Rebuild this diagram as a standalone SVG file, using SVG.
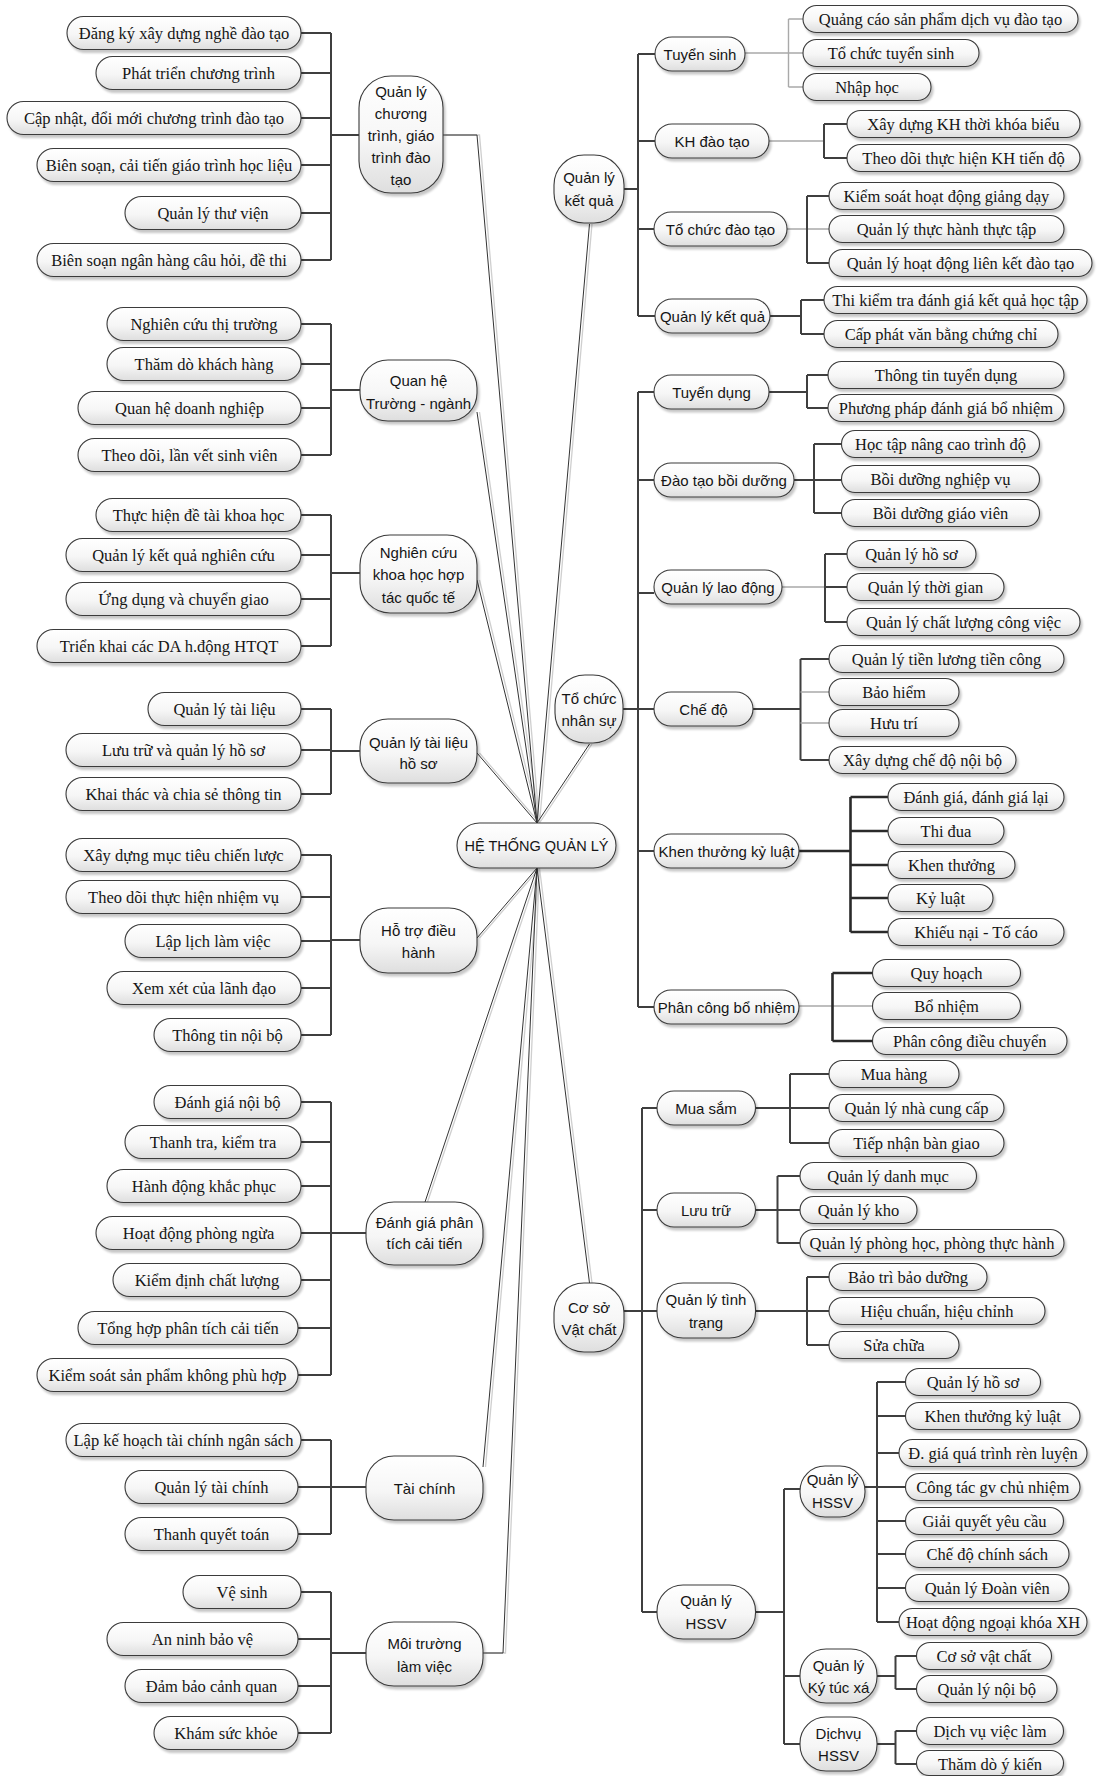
<svg xmlns="http://www.w3.org/2000/svg" width="1099" height="1776" viewBox="0 0 1099 1776">
<defs>
<linearGradient id="gf" x1="0" y1="0" x2="0" y2="1">
<stop offset="0" stop-color="#ffffff"/>
<stop offset="0.55" stop-color="#f6f6f6"/>
<stop offset="1" stop-color="#dedede"/>
</linearGradient>
<filter id="sh" x="-10%" y="-20%" width="130%" height="170%">
<feDropShadow dx="2" dy="3" stdDeviation="1.2" flood-color="#000" flood-opacity="0.22"/>
</filter>
</defs>
<style>
.n{fill:url(#gf);stroke:#3a3a3a;stroke-width:1.1;filter:url(#sh)}
text{text-anchor:middle;dominant-baseline:central;fill:#151515}
.a{font-family:"Liberation Serif","Times New Roman",serif;font-size:16.5px}
.p{font-family:"Liberation Sans",Arial,sans-serif;font-size:15px}
.k{fill:none;stroke:#3f3f3f;stroke-width:2}
.kt{fill:none;stroke:#2a2a2a;stroke-width:2.6}
.kl{fill:none;stroke:#a9a9a9;stroke-width:1.4}
.rd{fill:none;stroke:#333;stroke-width:1}
.rs{fill:none;stroke:#cfcfcf;stroke-width:1.3}
</style>
<rect width="1099" height="1776" fill="#ffffff"/>

<!-- connectors -->
<g id="connectors">
<!-- radial links from the root node -->
<g transform="translate(2.5,0)">
<path class="rs" d="M443,135H477L537,823 M477,412L537,823 M477,580L537,823 M477,753L537,823 M589.5,224L537,823 M589.5,744L537,823 M477,938L537,868 M425,1202L537,868 M483,1467L537,868 M483,1653H503L537,868 M589.5,1283L537,868"/>
</g>
<path class="rd" d="M443,135H477L537,823 M477,412L537,823 M477,580L537,823 M477,753L537,823 M589.5,224L537,823 M589.5,744L537,823 M477,938L537,868 M425,1202L537,868 M483,1467L537,868 M483,1653H503L537,868 M589.5,1283L537,868"/>

<!-- left branches -->
<path class="k" d="M301,33H331 M301,73H331 M301,118H331 M301,165H331 M301,213H331 M301,260H331 M331,33V260 M331,135H359"/>
<path class="k" d="M301,324H331 M301,364H331 M301,408H331 M301,455H331 M331,324V455 M331,390H360"/>
<path class="k" d="M301,515H331 M301,555H331 M301,599H331 M301,646H331 M331,515V646 M331,573H360"/>
<path class="k" d="M301,709H331 M301,750H331 M301,794H331 M331,709V794 M331,751H360"/>
<path class="k" d="M301,855H331 M301,897H331 M301,941H331 M301,988H331 M301,1035H331 M331,855V1035 M331,940H360"/>
<path class="k" d="M301,1102H331 M301,1142H331 M301,1186H331 M301,1233H331 M301,1280H331 M298,1328H331 M298,1375H331 M331,1102V1375 M331,1233H366"/>
<path class="k" d="M301,1440H331 M298,1487H331 M298,1534H331 M331,1440V1534 M331,1487H366"/>
<path class="k" d="M301,1592H331 M298,1639H331 M298,1686H331 M298,1733H331 M331,1592V1733 M331,1653H366"/>

<!-- Quản lý kết quả -->
<path class="k" d="M624,189H638 M638,54V316 M638,54H655 M638,141H655 M638,229H654 M638,316H655"/>
<path class="kl" d="M745,53H788.5 M788.5,19V87 M788.5,19H803 M788.5,53H803 M788.5,87H803"/>
<path class="kl" d="M768.5,141H824"/>
<path class="k" d="M824,124V158 M824,124H847 M824,158H847"/>
<path class="kl" d="M787,229H829"/>
<path class="k" d="M807,196V263 M807,196H829 M807,263H829"/>
<path class="k" d="M770,316H801 M801,300V334 M801,300H824 M801,334H824"/>

<!-- Tổ chức nhân sự -->
<path class="k" d="M623,709H638 M638,392V1007 M638,392H654 M638,480H654 M638,593H654 M638,709H654 M638,851H654 M638,1007H654"/>
<path class="k" d="M768.5,392H807 M807,375V408 M807,375H828 M807,408H828"/>
<path class="k" d="M794,480H841.5 M814,444V513 M814,444H841.5 M814,513H841.5"/>
<path class="kl" d="M782,587H825"/>
<path class="k" d="M825,554V622 M825,554H847 M825,587H847 M825,622H847"/>
<path class="k" d="M753,709H800.5 M800.5,659V760 M800.5,659H829 M800.5,760H829"/>
<path class="kl" d="M800.5,692H829 M800.5,723H829"/>
<path class="kt" d="M798.5,851H850.5 M850.5,797V932 M850.5,797H888 M850.5,831H888 M850.5,865H888 M850.5,898H888 M850.5,932H888"/>
<path class="kl" d="M798.5,1006H872.5"/>
<path class="kt" d="M832.5,973V1041 M832.5,973H872.5 M832.5,1041H872.5"/>

<!-- Cơ sở vật chất -->
<path class="k" d="M624,1311H642 M642,1108V1612 M642,1108H657 M642,1210H657 M642,1311H657 M642,1612H657"/>
<path class="k" d="M755.5,1108H829 M790,1074V1143 M790,1074H829 M790,1143H829"/>
<path class="k" d="M755.5,1210H800 M777.5,1176V1243 M777.5,1176H800 M777.5,1243H800"/>
<path class="k" d="M755.5,1311H829 M807,1277V1345 M807,1277H829 M807,1345H829"/>
<path class="k" d="M755.5,1612H784 M784,1489V1744 M784,1489H800 M784,1676H800 M784,1744H800"/>
<path class="k" d="M865,1487H877 M877,1382V1622 M877,1382H905.5 M877,1416H905.5 M877,1453H899 M877,1487H905.5 M877,1521H905.5 M877,1554H905.5 M877,1588H905.5 M877,1622H899"/>
<path class="k" d="M877,1676H895.5 M895.5,1656V1689 M895.5,1656H916.5 M895.5,1689H916.5"/>
<path class="k" d="M877,1744H895.5 M895.5,1731V1764 M895.5,1731H916.5 M895.5,1764H916.5"/>
</g>

<!-- root -->
<g id="he-thong-quan-ly"><rect class="n" x="457" y="823" width="159" height="45" rx="22.5"/><text class="p" x="536.5" y="846" style="font-size:14.5px">HỆ THỐNG QUẢN LÝ</text></g>

<!-- left main branches -->
<g id="ql-chuong-trinh"><rect class="n" x="359" y="76" width="84" height="117" rx="32"/>
<text class="p"><tspan x="401" y="91">Quản lý</tspan><tspan x="401" y="113">chương</tspan><tspan x="401" y="135">trình, giáo</tspan><tspan x="401" y="157">trình đào</tspan><tspan x="401" y="179">tạo</tspan></text></g>
<g id="quan-he"><rect class="n" x="360" y="360" width="117" height="61" rx="28"/>
<text class="p"><tspan x="418.5" y="380">Quan hệ</tspan><tspan x="418.5" y="403">Trường - ngành</tspan></text></g>
<g id="nghien-cuu"><rect class="n" x="360" y="535" width="117" height="78" rx="30"/>
<text class="p"><tspan x="418.5" y="552">Nghiên cứu</tspan><tspan x="418.5" y="574">khoa học hợp</tspan><tspan x="418.5" y="597">tác quốc tế</tspan></text></g>
<g id="tai-lieu"><rect class="n" x="360" y="719" width="117" height="64" rx="28"/>
<text class="p"><tspan x="418.5" y="742">Quản lý tài liệu</tspan><tspan x="418.5" y="763">hồ sơ</tspan></text></g>
<g id="ho-tro"><rect class="n" x="360" y="908" width="117" height="65" rx="28"/>
<text class="p"><tspan x="418.5" y="930">Hỗ trợ điều</tspan><tspan x="418.5" y="952">hành</tspan></text></g>
<g id="danh-gia"><rect class="n" x="366" y="1202" width="117" height="63" rx="28"/>
<text class="p"><tspan x="424.5" y="1222">Đánh giá phân</tspan><tspan x="424.5" y="1243">tích cải tiến</tspan></text></g>
<g id="tai-chinh"><rect class="n" x="366" y="1456" width="117" height="64" rx="28"/>
<text class="p" x="424.5" y="1488">Tài chính</text></g>
<g id="moi-truong"><rect class="n" x="366" y="1622" width="117" height="64" rx="28"/>
<text class="p"><tspan x="424.5" y="1643">Môi trường</tspan><tspan x="424.5" y="1666">làm việc</tspan></text></g>

<!-- left leaves -->
<g id="l1a"><rect class="n" x="67" y="16.5" width="234" height="33" rx="16.5"/><text class="a" x="184" y="33">Đăng ký xây dựng nghề đào tạo</text></g>
<g id="l1b"><rect class="n" x="96" y="56.5" width="205" height="33" rx="16.5"/><text class="a" x="198.5" y="73">Phát triển chương trình</text></g>
<g id="l1c"><rect class="n" x="7" y="101.5" width="294" height="33" rx="16.5"/><text class="a" x="154" y="118">Cập nhật, đổi mới chương trình đào tạo</text></g>
<g id="l1d"><rect class="n" x="37" y="148.5" width="264" height="33" rx="16.5"/><text class="a" x="169" y="165">Biên soạn, cải tiến giáo trình học liệu</text></g>
<g id="l1e"><rect class="n" x="125" y="196.5" width="176" height="33" rx="16.5"/><text class="a" x="213" y="213">Quản lý thư viện</text></g>
<g id="l1f"><rect class="n" x="37" y="243.5" width="264" height="33" rx="16.5"/><text class="a" x="169" y="260">Biên soạn ngân hàng câu hỏi, đề thi</text></g>

<g id="l2a"><rect class="n" x="107" y="307.5" width="194" height="33" rx="16.5"/><text class="a" x="204" y="324">Nghiên cứu thị trường</text></g>
<g id="l2b"><rect class="n" x="107" y="347.5" width="194" height="33" rx="16.5"/><text class="a" x="204" y="364">Thăm dò khách hàng</text></g>
<g id="l2c"><rect class="n" x="78" y="391.5" width="223" height="33" rx="16.5"/><text class="a" x="189.5" y="408">Quan hệ doanh nghiệp</text></g>
<g id="l2d"><rect class="n" x="78" y="438.5" width="223" height="33" rx="16.5"/><text class="a" x="189.5" y="455">Theo dõi, lần vết sinh viên</text></g>

<g id="l3a"><rect class="n" x="96" y="498.5" width="205" height="33" rx="16.5"/><text class="a" x="198.5" y="515">Thực hiện đề tài khoa học</text></g>
<g id="l3b"><rect class="n" x="66" y="538.5" width="235" height="33" rx="16.5"/><text class="a" x="183.5" y="555">Quản lý kết quả nghiên cứu</text></g>
<g id="l3c"><rect class="n" x="66" y="582.5" width="235" height="33" rx="16.5"/><text class="a" x="183.5" y="599">Ứng dụng và chuyển giao</text></g>
<g id="l3d"><rect class="n" x="37" y="629.5" width="264" height="33" rx="16.5"/><text class="a" x="169" y="646">Triển khai các DA h.động HTQT</text></g>

<g id="l4a"><rect class="n" x="148" y="692.5" width="153" height="33" rx="16.5"/><text class="a" x="224.5" y="709">Quản lý tài liệu</text></g>
<g id="l4b"><rect class="n" x="66" y="733.5" width="235" height="33" rx="16.5"/><text class="a" x="183.5" y="750">Lưu trữ và quản lý hồ sơ</text></g>
<g id="l4c"><rect class="n" x="66" y="777.5" width="235" height="33" rx="16.5"/><text class="a" x="183.5" y="794">Khai thác và chia sẻ thông tin</text></g>

<g id="l5a"><rect class="n" x="66" y="838.5" width="235" height="33" rx="16.5"/><text class="a" x="183.5" y="855">Xây dựng mục tiêu chiến lược</text></g>
<g id="l5b"><rect class="n" x="66" y="880.5" width="235" height="33" rx="16.5"/><text class="a" x="183.5" y="897">Theo dõi thực hiện nhiệm vụ</text></g>
<g id="l5c"><rect class="n" x="125" y="924.5" width="176" height="33" rx="16.5"/><text class="a" x="213" y="941">Lập lịch làm việc</text></g>
<g id="l5d"><rect class="n" x="107" y="971.5" width="194" height="33" rx="16.5"/><text class="a" x="204" y="988">Xem xét của lãnh đạo</text></g>
<g id="l5e"><rect class="n" x="154" y="1018.5" width="147" height="33" rx="16.5"/><text class="a" x="227.5" y="1035">Thông tin nội bộ</text></g>

<g id="l6a"><rect class="n" x="154" y="1085.5" width="147" height="33" rx="16.5"/><text class="a" x="227.5" y="1102">Đánh giá nội bộ</text></g>
<g id="l6b"><rect class="n" x="125" y="1125.5" width="176" height="33" rx="16.5"/><text class="a" x="213" y="1142">Thanh tra, kiểm tra</text></g>
<g id="l6c"><rect class="n" x="107" y="1169.5" width="194" height="33" rx="16.5"/><text class="a" x="204" y="1186">Hành động khắc phục</text></g>
<g id="l6d"><rect class="n" x="96" y="1216.5" width="205" height="33" rx="16.5"/><text class="a" x="198.5" y="1233">Hoạt động phòng ngừa</text></g>
<g id="l6e"><rect class="n" x="113" y="1263.5" width="188" height="33" rx="16.5"/><text class="a" x="207" y="1280">Kiểm định chất lượng</text></g>
<g id="l6f"><rect class="n" x="78" y="1311.5" width="220" height="33" rx="16.5"/><text class="a" x="188" y="1328">Tổng hợp phân tích cải tiến</text></g>
<g id="l6g"><rect class="n" x="37" y="1358.5" width="261" height="33" rx="16.5"/><text class="a" x="167.5" y="1375">Kiểm soát sản phẩm không phù hợp</text></g>

<g id="l7a"><rect class="n" x="66" y="1423.5" width="235" height="33" rx="16.5"/><text class="a" x="183.5" y="1440">Lập kế hoạch tài chính ngân sách</text></g>
<g id="l7b"><rect class="n" x="125" y="1470.5" width="173" height="33" rx="16.5"/><text class="a" x="211.5" y="1487">Quản lý tài chính</text></g>
<g id="l7c"><rect class="n" x="125" y="1517.5" width="173" height="33" rx="16.5"/><text class="a" x="211.5" y="1534">Thanh quyết toán</text></g>

<g id="l8a"><rect class="n" x="183" y="1575.5" width="118" height="33" rx="16.5"/><text class="a" x="242" y="1592">Vệ sinh</text></g>
<g id="l8b"><rect class="n" x="107" y="1622.5" width="191" height="33" rx="16.5"/><text class="a" x="202.5" y="1639">An ninh bảo vệ</text></g>
<g id="l8c"><rect class="n" x="125" y="1669.5" width="173" height="33" rx="16.5"/><text class="a" x="211.5" y="1686">Đảm bảo cảnh quan</text></g>
<g id="l8d"><rect class="n" x="154" y="1716.5" width="144" height="33" rx="16.5"/><text class="a" x="226" y="1733">Khám sức khỏe</text></g>

<!-- right main branches -->
<g id="ql-ket-qua"><rect class="n" x="554" y="155" width="70" height="68" rx="30"/>
<text class="p"><tspan x="589" y="177">Quản lý</tspan><tspan x="589" y="200">kết quả</tspan></text></g>
<g id="to-chuc-nhan-su"><rect class="n" x="555" y="675" width="68" height="68" rx="30"/>
<text class="p"><tspan x="589" y="698">Tổ chức</tspan><tspan x="589" y="720">nhân sự</tspan></text></g>
<g id="co-so-vat-chat"><rect class="n" x="554" y="1283" width="70" height="69" rx="30"/>
<text class="p"><tspan x="589" y="1307">Cơ sở</tspan><tspan x="589" y="1329">Vật chất</tspan></text></g>

<!-- Quản lý kết quả: sub-branches -->
<g id="s1"><rect class="n" x="655" y="37" width="90" height="34" rx="17"/><text class="p" x="700" y="54">Tuyển sinh</text></g>
<g id="s2"><rect class="n" x="655" y="124" width="114" height="34" rx="17"/><text class="p" x="712" y="141">KH đào tạo</text></g>
<g id="s3"><rect class="n" x="654" y="212" width="133" height="34" rx="17"/><text class="p" x="720.5" y="229">Tổ chức đào tạo</text></g>
<g id="s4"><rect class="n" x="655" y="299" width="115" height="34" rx="17"/><text class="p" x="712.5" y="316">Quản lý kết quả</text></g>

<g id="q1"><rect class="n" x="803" y="5.5" width="275" height="27" rx="13.5"/><text class="a" x="940.5" y="19">Quảng cáo sản phẩm dịch vụ đào tạo</text></g>
<g id="q2"><rect class="n" x="803" y="39.5" width="176" height="27" rx="13.5"/><text class="a" x="891" y="53">Tổ chức tuyển sinh</text></g>
<g id="q3"><rect class="n" x="803" y="73.5" width="128" height="27" rx="13.5"/><text class="a" x="867" y="87">Nhập học</text></g>
<g id="q4"><rect class="n" x="847" y="110.5" width="233" height="27" rx="13.5"/><text class="a" x="963.5" y="124">Xây dựng KH thời khóa biểu</text></g>
<g id="q5"><rect class="n" x="847" y="144.5" width="233" height="27" rx="13.5"/><text class="a" x="963.5" y="158">Theo dõi thực hiện KH tiến độ</text></g>
<g id="q6"><rect class="n" x="829" y="182.5" width="235" height="27" rx="13.5"/><text class="a" x="946.5" y="196">Kiểm soát hoạt động giảng dạy</text></g>
<g id="q7"><rect class="n" x="829" y="215.5" width="235" height="27" rx="13.5"/><text class="a" x="946.5" y="229">Quản lý thực hành thực tập</text></g>
<g id="q8"><rect class="n" x="829" y="249.5" width="263" height="27" rx="13.5"/><text class="a" x="960.5" y="263">Quản lý hoạt động liên kết đào tạo</text></g>
<g id="q9"><rect class="n" x="824" y="286.5" width="263" height="27" rx="13.5"/><text class="a" x="955.5" y="300">Thi kiểm tra đánh giá kết quả học tập</text></g>
<g id="q10"><rect class="n" x="824" y="320.5" width="234" height="27" rx="13.5"/><text class="a" x="941" y="334">Cấp phát văn bằng chứng chỉ</text></g>

<!-- Tổ chức nhân sự: sub-branches -->
<g id="t1"><rect class="n" x="654" y="375" width="115" height="34" rx="17"/><text class="p" x="711.5" y="392">Tuyển dụng</text></g>
<g id="t2"><rect class="n" x="654" y="463" width="140" height="34" rx="17"/><text class="p" x="724" y="480">Đào tạo bồi dưỡng</text></g>
<g id="t3"><rect class="n" x="654" y="570" width="128" height="34" rx="17"/><text class="p" x="718" y="587">Quản lý lao động</text></g>
<g id="t4"><rect class="n" x="654" y="692" width="99" height="34" rx="17"/><text class="p" x="703.5" y="709">Chế độ</text></g>
<g id="t5"><rect class="n" x="654" y="834" width="145" height="34" rx="17"/><text class="p" x="726.5" y="851">Khen thưởng kỷ luật</text></g>
<g id="t6"><rect class="n" x="654" y="990" width="145" height="34" rx="17"/><text class="p" x="726.5" y="1007">Phân công bổ nhiệm</text></g>

<g id="a1"><rect class="n" x="828" y="361.5" width="236" height="27" rx="13.5"/><text class="a" x="946" y="375">Thông tin tuyển dụng</text></g>
<g id="a2"><rect class="n" x="828" y="394.5" width="236" height="27" rx="13.5"/><text class="a" x="946" y="408">Phương pháp đánh giá bổ nhiệm</text></g>
<g id="a3"><rect class="n" x="841.5" y="430.5" width="198" height="27" rx="13.5"/><text class="a" x="940.5" y="444">Học tập nâng cao trình độ</text></g>
<g id="a4"><rect class="n" x="841.5" y="465.5" width="198" height="27" rx="13.5"/><text class="a" x="940.5" y="479">Bồi dưỡng nghiệp vụ</text></g>
<g id="a5"><rect class="n" x="841.5" y="499.5" width="198" height="27" rx="13.5"/><text class="a" x="940.5" y="513">Bồi dưỡng giáo viên</text></g>
<g id="a6"><rect class="n" x="847" y="540.5" width="129" height="27" rx="13.5"/><text class="a" x="911.5" y="554">Quản lý hồ sơ</text></g>
<g id="a7"><rect class="n" x="847" y="573.5" width="157" height="27" rx="13.5"/><text class="a" x="925.5" y="587">Quản lý thời gian</text></g>
<g id="a8"><rect class="n" x="847" y="608.5" width="233" height="27" rx="13.5"/><text class="a" x="963.5" y="622">Quản lý chất lượng công việc</text></g>
<g id="a9"><rect class="n" x="829" y="645.5" width="235" height="27" rx="13.5"/><text class="a" x="946.5" y="659">Quản lý tiền lương tiền công</text></g>
<g id="a10"><rect class="n" x="829" y="678.5" width="130" height="27" rx="13.5"/><text class="a" x="894" y="692">Bảo hiểm</text></g>
<g id="a11"><rect class="n" x="829" y="709.5" width="130" height="27" rx="13.5"/><text class="a" x="894" y="723">Hưu trí</text></g>
<g id="a12"><rect class="n" x="829" y="746.5" width="187" height="27" rx="13.5"/><text class="a" x="922.5" y="760">Xây dựng chế độ nội bộ</text></g>
<g id="a13"><rect class="n" x="888" y="783.5" width="176" height="27" rx="13.5"/><text class="a" x="976" y="797">Đánh giá, đánh giá lại</text></g>
<g id="a14"><rect class="n" x="888" y="817.5" width="116" height="27" rx="13.5"/><text class="a" x="946" y="831">Thi đua</text></g>
<g id="a15"><rect class="n" x="888" y="851.5" width="127" height="27" rx="13.5"/><text class="a" x="951.5" y="865">Khen thưởng</text></g>
<g id="a16"><rect class="n" x="888" y="884.5" width="105" height="27" rx="13.5"/><text class="a" x="940.5" y="898">Kỷ luật</text></g>
<g id="a17"><rect class="n" x="888" y="918.5" width="176" height="27" rx="13.5"/><text class="a" x="976" y="932">Khiếu nại - Tố cáo</text></g>
<g id="a18"><rect class="n" x="872.5" y="959.5" width="148" height="27" rx="13.5"/><text class="a" x="946.5" y="973">Quy hoạch</text></g>
<g id="a19"><rect class="n" x="872.5" y="992.5" width="148" height="27" rx="13.5"/><text class="a" x="946.5" y="1006">Bổ nhiệm</text></g>
<g id="a20"><rect class="n" x="872.5" y="1027.5" width="194.5" height="27" rx="13.5"/><text class="a" x="969.75" y="1041">Phân công điều chuyển</text></g>

<!-- Cơ sở vật chất: sub-branches -->
<g id="u1"><rect class="n" x="657" y="1091" width="98.5" height="34" rx="17"/><text class="p" x="706" y="1108">Mua sắm</text></g>
<g id="u2"><rect class="n" x="657" y="1193" width="98.5" height="34" rx="17"/><text class="p" x="706" y="1210">Lưu trữ</text></g>
<g id="u3"><rect class="n" x="657" y="1283" width="98.5" height="55" rx="26"/>
<text class="p"><tspan x="706" y="1299">Quản lý tình</tspan><tspan x="706" y="1322">trạng</tspan></text></g>
<g id="u4"><rect class="n" x="657" y="1585" width="98.5" height="54" rx="26"/>
<text class="p"><tspan x="706" y="1600">Quản lý</tspan><tspan x="706" y="1623">HSSV</tspan></text></g>

<g id="b1"><rect class="n" x="829" y="1060.5" width="130" height="27" rx="13.5"/><text class="a" x="894" y="1074">Mua hàng</text></g>
<g id="b2"><rect class="n" x="829" y="1094.5" width="175" height="27" rx="13.5"/><text class="a" x="916.5" y="1108">Quản lý nhà cung cấp</text></g>
<g id="b3"><rect class="n" x="829" y="1129.5" width="175" height="27" rx="13.5"/><text class="a" x="916.5" y="1143">Tiếp nhận bàn giao</text></g>
<g id="b4"><rect class="n" x="800" y="1162.5" width="176.5" height="27" rx="13.5"/><text class="a" x="888" y="1176">Quản lý danh mục</text></g>
<g id="b5"><rect class="n" x="800" y="1196.5" width="117" height="27" rx="13.5"/><text class="a" x="858.5" y="1210">Quản lý kho</text></g>
<g id="b6"><rect class="n" x="800" y="1229.5" width="264" height="27" rx="13.5"/><text class="a" x="932" y="1243">Quản lý phòng học, phòng thực hành</text></g>
<g id="b7"><rect class="n" x="829" y="1263.5" width="158" height="27" rx="13.5"/><text class="a" x="908" y="1277">Bảo trì bảo dưỡng</text></g>
<g id="b8"><rect class="n" x="829" y="1297.5" width="216" height="27" rx="13.5"/><text class="a" x="937" y="1311">Hiệu chuẩn, hiệu chỉnh</text></g>
<g id="b9"><rect class="n" x="829" y="1331.5" width="130" height="27" rx="13.5"/><text class="a" x="894" y="1345">Sửa chữa</text></g>

<!-- Quản lý HSSV: third level -->
<g id="v1"><rect class="n" x="800" y="1466" width="65" height="51" rx="25"/>
<text class="p"><tspan x="832.5" y="1479">Quản lý</tspan><tspan x="832.5" y="1502">HSSV</tspan></text></g>
<g id="v2"><rect class="n" x="800" y="1649" width="77" height="54" rx="26"/>
<text class="p"><tspan x="838.5" y="1665">Quản lý</tspan><tspan x="838.5" y="1687">Ký túc xá</tspan></text></g>
<g id="v3"><rect class="n" x="800" y="1717" width="77" height="54" rx="26"/>
<text class="p"><tspan x="838.5" y="1733">Dịchvụ</tspan><tspan x="838.5" y="1755">HSSV</tspan></text></g>

<g id="c1"><rect class="n" x="905.5" y="1368.5" width="135" height="27" rx="13.5"/><text class="a" x="973" y="1382">Quản lý hồ sơ</text></g>
<g id="c2"><rect class="n" x="905.5" y="1402.5" width="174.5" height="27" rx="13.5"/><text class="a" x="992.75" y="1416">Khen thưởng kỷ luật</text></g>
<g id="c3"><rect class="n" x="899" y="1439.5" width="188" height="27" rx="13.5"/><text class="a" x="993" y="1453">Đ. giá quá trình rèn luyện</text></g>
<g id="c4"><rect class="n" x="905.5" y="1473.5" width="174.5" height="27" rx="13.5"/><text class="a" x="992.75" y="1487">Công tác gv chủ nhiệm</text></g>
<g id="c5"><rect class="n" x="905.5" y="1507.5" width="158" height="27" rx="13.5"/><text class="a" x="984.5" y="1521">Giải quyết yêu cầu</text></g>
<g id="c6"><rect class="n" x="905.5" y="1540.5" width="163.5" height="27" rx="13.5"/><text class="a" x="987.25" y="1554">Chế độ chính sách</text></g>
<g id="c7"><rect class="n" x="905.5" y="1574.5" width="163.5" height="27" rx="13.5"/><text class="a" x="987.25" y="1588">Quản lý Đoàn viên</text></g>
<g id="c8"><rect class="n" x="899" y="1608.5" width="188" height="27" rx="13.5"/><text class="a" x="993" y="1622">Hoạt động ngoại khóa XH</text></g>
<g id="d1"><rect class="n" x="916.5" y="1642.5" width="135" height="27" rx="13.5"/><text class="a" x="984" y="1656">Cơ sở vật chất</text></g>
<g id="d2"><rect class="n" x="916.5" y="1675.5" width="140.5" height="27" rx="13.5"/><text class="a" x="986.75" y="1689">Quản lý nội bộ</text></g>
<g id="d3"><rect class="n" x="916.5" y="1717.5" width="147" height="27" rx="13.5"/><text class="a" x="990" y="1731">Dịch vụ việc làm</text></g>
<g id="d4"><rect class="n" x="916.5" y="1750.5" width="147" height="25" rx="12.5"/><text class="a" x="990" y="1764">Thăm dò ý kiến</text></g>
</svg>
